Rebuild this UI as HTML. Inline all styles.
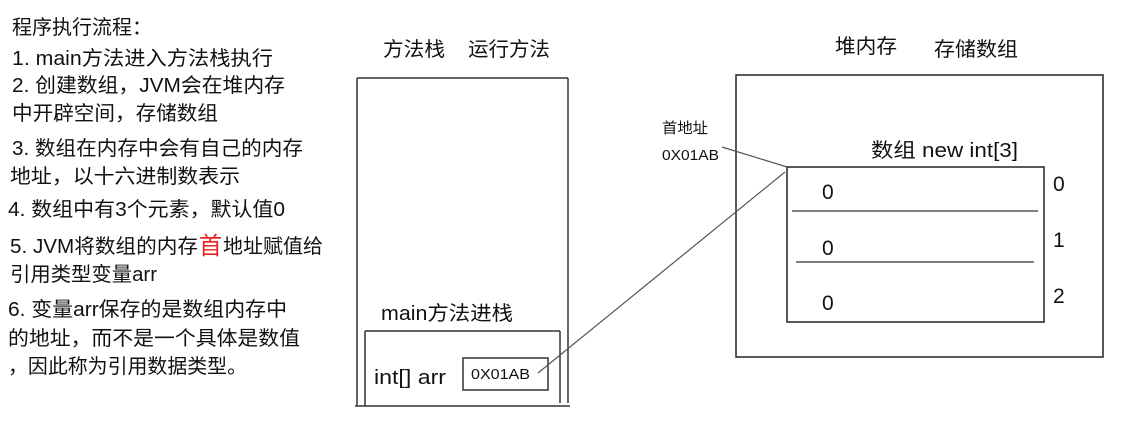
<!DOCTYPE html>
<html>
<head>
<meta charset="utf-8">
<style>
html,body{margin:0;padding:0;background:#fff;}
svg{display:block;}
text{font-family:"Liberation Sans","Noto Sans CJK SC",sans-serif;fill:#111;}
</style>
</head>
<body>
<svg width="1125" height="429" viewBox="0 0 1125 429" xmlns="http://www.w3.org/2000/svg">
<rect x="0" y="0" width="1125" height="429" fill="#fff"/>

<!-- Left explanation text -->
<g font-size="20">
<text x="12" y="34" textLength="140" lengthAdjust="spacingAndGlyphs">程序执行流程：</text>
<text x="12" y="65" textLength="261" lengthAdjust="spacingAndGlyphs">1. main方法进入方法栈执行</text>
<text x="12" y="92" textLength="273" lengthAdjust="spacingAndGlyphs">2. 创建数组，JVM会在堆内存</text>
<text x="12" y="120" textLength="206" lengthAdjust="spacingAndGlyphs">中开辟空间，存储数组</text>
<text x="12" y="155" textLength="291" lengthAdjust="spacingAndGlyphs">3. 数组在内存中会有自己的内存</text>
<text x="10" y="183" textLength="230" lengthAdjust="spacingAndGlyphs">地址，以十六进制数表示</text>
<text x="8" y="216" textLength="277" lengthAdjust="spacingAndGlyphs">4. 数组中有3个元素，默认值0</text>
<text x="10" y="253" textLength="188" lengthAdjust="spacingAndGlyphs">5. JVM将数组的内存</text>
<text x="199" y="254" font-size="24" style="fill:#e8231f" textLength="23" lengthAdjust="spacingAndGlyphs">首</text>
<text x="223" y="253" textLength="100" lengthAdjust="spacingAndGlyphs">地址赋值给</text>
<text x="10" y="281" textLength="147" lengthAdjust="spacingAndGlyphs">引用类型变量arr</text>
<text x="8" y="316" textLength="279" lengthAdjust="spacingAndGlyphs">6. 变量arr保存的是数组内存中</text>
<text x="8" y="345" textLength="292" lengthAdjust="spacingAndGlyphs">的地址，而不是一个具体是数值</text>
<text x="8" y="373" textLength="239" lengthAdjust="spacingAndGlyphs">，因此称为引用数据类型。</text>
</g>

<!-- Stack heading -->
<text x="383" y="56" font-size="20" textLength="62" lengthAdjust="spacingAndGlyphs">方法栈</text>
<text x="468" y="56" font-size="20" textLength="82" lengthAdjust="spacingAndGlyphs">运行方法</text>

<!-- Stack box -->
<g stroke="#333" stroke-width="1.5" fill="none">
<line x1="357" y1="78" x2="357" y2="406"/>
<line x1="357" y1="78" x2="568" y2="78"/>
<line x1="568" y1="78" x2="568" y2="403"/>
<line x1="355" y1="406" x2="570" y2="406"/>
<line x1="365" y1="331" x2="365" y2="406"/>
<line x1="365" y1="331" x2="560" y2="331"/>
<line x1="560" y1="331" x2="560" y2="403"/>
<rect x="463" y="358" width="85" height="32"/>
</g>
<text x="381" y="320" font-size="20" textLength="132" lengthAdjust="spacingAndGlyphs">main方法进栈</text>
<text x="374" y="384" font-size="20" textLength="72" lengthAdjust="spacingAndGlyphs">int[] arr</text>
<text x="471" y="379" font-size="14.5" textLength="59" lengthAdjust="spacingAndGlyphs">0X01AB</text>

<!-- Heap heading -->
<text x="835" y="53" font-size="20" textLength="62" lengthAdjust="spacingAndGlyphs">堆内存</text>
<text x="934" y="56" font-size="20" textLength="84" lengthAdjust="spacingAndGlyphs">存储数组</text>

<!-- Heap box -->
<g stroke="#222" stroke-width="1.5" fill="none">
<rect x="736" y="75" width="367" height="282"/>
<rect x="787" y="167" width="257" height="155"/>
</g>
<g stroke="#555" stroke-width="1.5">
<line x1="792" y1="211" x2="1038" y2="211"/>
<line x1="796" y1="262" x2="1034" y2="262"/>
</g>

<text x="871" y="157" font-size="20" textLength="147" lengthAdjust="spacingAndGlyphs">数组 new int[3]</text>

<g font-size="21">
<text x="822" y="199">0</text>
<text x="822" y="255">0</text>
<text x="822" y="310">0</text>
<text x="1053" y="191">0</text>
<text x="1053" y="247">1</text>
<text x="1053" y="303">2</text>
</g>

<!-- Address label -->
<text x="662" y="133" font-size="15" textLength="46" lengthAdjust="spacingAndGlyphs">首地址</text>
<text x="662" y="160" font-size="14.5" textLength="57" lengthAdjust="spacingAndGlyphs">0X01AB</text>

<!-- Connectors -->
<g stroke="#555" stroke-width="1.2">
<line x1="722" y1="147" x2="787" y2="167"/>
<line x1="785" y1="172" x2="538" y2="373"/>
</g>
</svg>
</body>
</html>
